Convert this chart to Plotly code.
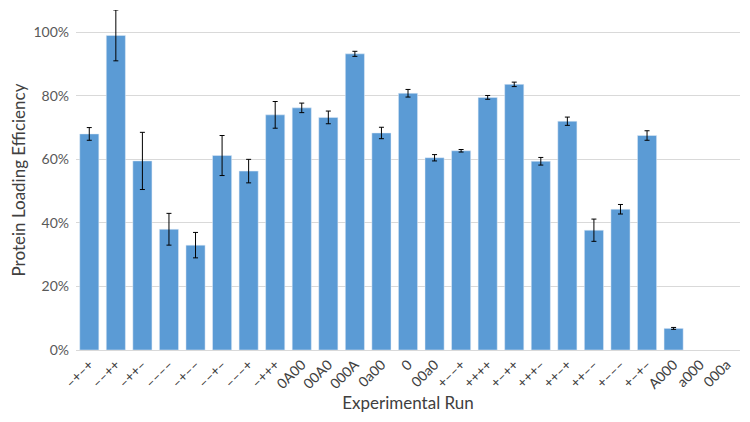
import plotly.graph_objects as go

# experimental runs (x categories)
runs = ["–+–+", "––++", "–++–", "––––", "–+––", "––+–", "–––+", "–+++",
        "0A00", "00A0", "000A", "0a00", "0", "00a0",
        "+––+", "++++", "+–++", "+++–", "++–+", "++––", "+–––", "+–+–",
        "A000", "a000", "000a"]

# protein loading efficiency (fraction) and error (fraction); the last two runs show no bar
efficiency = [0.680, 0.990, 0.595, 0.380, 0.330, 0.612, 0.563, 0.740,
              0.762, 0.732, 0.932, 0.683, 0.808, 0.605,
              0.627, 0.795, 0.836, 0.594, 0.720, 0.377, 0.443, 0.675,
              0.068, None, None]
error = [0.020, 0.080, 0.090, 0.050, 0.040, 0.063, 0.037, 0.042,
         0.015, 0.020, 0.008, 0.018, 0.012, 0.010,
         0.004, 0.006, 0.007, 0.012, 0.013, 0.035, 0.015, 0.015,
         0.003, None, None]

y_ticks = [0, 0.2, 0.4, 0.6, 0.8, 1.0]
y_tick_text = ["0%", "20%", "40%", "60%", "80%", "100%"]

fig = go.Figure()
fig.add_trace(go.Bar(
    x=runs,
    y=efficiency,
    marker=dict(color="#5B9BD5"),
    error_y=dict(type="data", array=error, visible=True,
                 color="#000000", thickness=1, width=2.5),
))

fig.update_layout(
    width=750, height=422,
    margin=dict(l=68, r=18, t=2, b=80),
    plot_bgcolor="white",
    paper_bgcolor="white",
    bargap=0.28,
    showlegend=False,
    font=dict(family="Lato, Open Sans, sans-serif", color="#595959", size=14),
    xaxis=dict(
        title=dict(text="Experimental Run", font=dict(size=17, color="#404040"), standoff=4),
        tickangle=-45,
        tickfont=dict(size=14, color="#404040"),
        showline=True, linecolor="#D9D9D9", linewidth=1,
        ticks="",
        automargin=False,
    ),
    yaxis=dict(
        title=dict(text="Protein Loading Efficiency", font=dict(size=17, color="#404040"), standoff=8),
        range=[0, 1.07],
        tickvals=y_ticks,
        ticktext=y_tick_text,
        tickfont=dict(size=14, color="#595959"),
        ticklabelstandoff=6,
        showgrid=True, gridcolor="#D9D9D9", gridwidth=1,
        zeroline=False,
        ticks="",
        automargin=False,
    ),
)

fig.write_html("out.html")
